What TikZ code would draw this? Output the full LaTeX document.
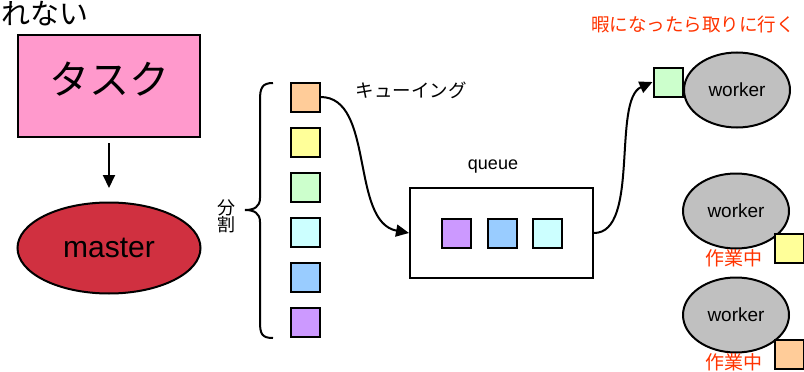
\documentclass[tikz,border=0pt]{standalone}
\usepackage{fontspec}
\setmainfont{Liberation Sans}
\newfontfamily\jp{Noto Sans CJK JP}
\usetikzlibrary{shapes.geometric,arrows.meta}
\definecolor{pinkf}{HTML}{FF99CC}
\definecolor{masterred}{HTML}{D03040}
\definecolor{sqorange}{HTML}{FFCC99}
\definecolor{sqyellow}{HTML}{FFFF99}
\definecolor{sqgreen}{HTML}{CCFFCC}
\definecolor{sqcyan}{HTML}{CCFFFF}
\definecolor{sqblue}{HTML}{99CCFF}
\definecolor{sqpurple}{HTML}{CC99FF}
\definecolor{workergray}{HTML}{C0C0C0}
\definecolor{redtext}{HTML}{FF3300}
\tikzset{
  sq/.style={draw=black, line width=2pt, minimum width=29pt, minimum height=29pt, inner sep=0pt},
  worker/.style={ellipse, draw=black, line width=2pt, fill=workergray, minimum width=106pt, minimum height=75pt, inner sep=0pt, font=\fontsize{19}{21}\selectfont},
  redlbl/.style={text=redtext, font=\jp\fontsize{19}{21}\selectfont, inner sep=0pt},
  conn/.style={line width=2pt, -{Triangle[length=13pt,width=12pt]}},
}
\begin{document}
\begin{tikzpicture}[x=1pt,y=-1pt]
\useasboundingbox (0,0) rectangle (804,372);
% top cut-off text
\node[anchor=west, inner sep=0pt, font=\jp\fontsize{29}{31}\selectfont] (cut) at (1,14) {れない};
% task box
\node[draw=black, line width=2pt, fill=pinkf, minimum width=182pt, minimum height=102pt, inner sep=0pt] (task) at (109,86) {};
\node[inner sep=0pt, font=\jp\fontsize{40}{44}\selectfont] (tasktxt) at (109,79) {タスク};
% master
\node[ellipse, draw=black, line width=2pt, fill=masterred, minimum width=183pt, minimum height=91pt, inner sep=0pt, font=\fontsize{30}{32}\selectfont] (master) at (109,248) {master};
\draw[conn] (task.south) ++(0,5) coordinate (ts) (ts) -- (master.north |- 0,188) coordinate (mt);
% 分割
\node[inner sep=0pt, font=\jp\fontsize{18}{20}\selectfont, align=center] (bunkatsu) at (226,216) {分\\[-3pt]割};
% brace
\draw[line width=2pt] (273,83) .. controls (262,83) and (260,88) .. (260,100)
  -- (260,198) .. controls (260,207) and (254,210) .. (245,210)
  .. controls (254,210) and (260,213) .. (260,222)
  -- (260,322) .. controls (260,334) and (262,338) .. (273,338);
% squares
\node[sq, fill=sqorange] (s1) at (305,97) {};
\node[sq, fill=sqyellow] (s2) at (305,142) {};
\node[sq, fill=sqgreen] (s3) at (305,187) {};
\node[sq, fill=sqcyan] (s4) at (305,232) {};
\node[sq, fill=sqblue] (s5) at (305,277) {};
\node[sq, fill=sqpurple] (s6) at (305,322) {};
% queueing label
\node[inner sep=0pt, font=\jp\fontsize{18.5}{20}\selectfont] (kyu) at (411,90) {キューイング};
% queue
\node[inner sep=0pt, font=\fontsize{18}{20}\selectfont] (qlbl) at (493,167) {queue};
\node[draw=black, line width=2pt, fill=white, minimum width=183pt, minimum height=90pt, inner sep=0pt] (queue) at (501.5,233) {};
\node[sq, fill=sqpurple] (q1) at (456.5,233) {};
\node[sq, fill=sqblue] (q2) at (502,233) {};
\node[sq, fill=sqcyan] (q3) at (547,233) {};
% curve into queue
\draw[conn] (s1.east) .. controls (375,97) and (350,222) .. (queue.west);
% workers
\node[worker] (w1) at (737,90) {worker};
\node[sq, fill=sqgreen] (g) at (668,82) {};
\draw[conn] (queue.east) .. controls (640,233) and (612,100) .. (g.west);
\node[text=redtext, inner sep=0pt, font=\jp\fontsize{18.5}{20}\selectfont] (idle) at (693,24) {暇になったら取りに行く};
\node[worker] (w2) at (736,211) {worker};
\node[sq, fill=sqyellow, anchor=north west] (y) at (774,233) {};
\node[redlbl] (busy1) at (734,258) {作業中};
\node[worker] (w3) at (736,315) {worker};
\node[sq, fill=sqorange, anchor=north west] (o) at (774,339) {};
\node[redlbl] (busy2) at (734,362) {作業中};
\end{tikzpicture}
\end{document}
